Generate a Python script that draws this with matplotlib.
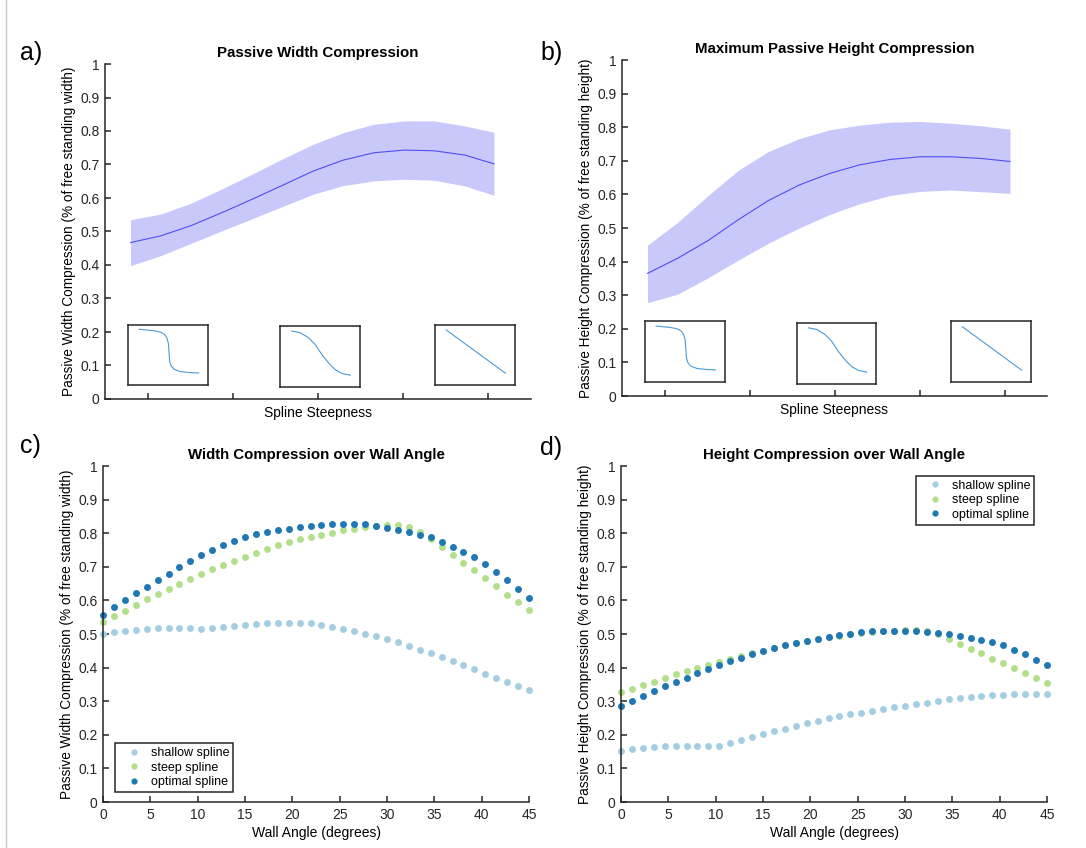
import numpy as np
import matplotlib
matplotlib.use('Agg')
import matplotlib.pyplot as plt
from matplotlib.lines import Line2D

plt.rcParams['font.family'] = ['Liberation Sans', 'DejaVu Sans']

# ---- panel a/b : compression vs spline steepness (mean + band) ----
steepness = [0.16, 0.231, 0.303, 0.374, 0.445, 0.517, 0.588,
             0.659, 0.731, 0.802, 0.873, 0.945, 1.013]

width_mean = [0.467, 0.487, 0.518, 0.556, 0.596, 0.638, 0.680,
              0.713, 0.735, 0.743, 0.741, 0.728, 0.702]
width_upper = [0.535, 0.552, 0.585, 0.627, 0.671, 0.717, 0.760,
               0.795, 0.820, 0.830, 0.830, 0.815, 0.796]
width_lower = [0.398, 0.428, 0.465, 0.502, 0.538, 0.575, 0.611,
               0.637, 0.651, 0.656, 0.653, 0.636, 0.608]

height_mean = [0.365, 0.410, 0.463, 0.525, 0.582, 0.628, 0.662,
               0.688, 0.704, 0.712, 0.712, 0.707, 0.698]
height_upper = [0.449, 0.517, 0.597, 0.672, 0.728, 0.766, 0.792,
                0.806, 0.815, 0.817, 0.812, 0.804, 0.794]
height_lower = [0.278, 0.303, 0.352, 0.405, 0.455, 0.500, 0.540,
                0.572, 0.597, 0.609, 0.613, 0.608, 0.603]

# little spline icons drawn inside the top panels (box-relative coords)
icon_steep_x = [0.139, 0.315, 0.40, 0.45, 0.483, 0.504, 0.513, 0.521,
                0.538, 0.576, 0.651, 0.777, 0.882]
icon_steep_y = [0.922, 0.900, 0.878, 0.844, 0.789, 0.689, 0.522, 0.383,
                0.311, 0.256, 0.217, 0.200, 0.194]
icon_mid_x = [0.147, 0.252, 0.357, 0.441, 0.525, 0.609, 0.693, 0.777, 0.882]
icon_mid_y = [0.917, 0.890, 0.807, 0.696, 0.530, 0.392, 0.282, 0.221, 0.193]
icon_lin_x = [0.138, 0.879]
icon_lin_y = [0.911, 0.189]

# ---- panel c/d : compression vs wall angle ----
wall_angle = np.linspace(0, 45, 40)

w_shallow = [0.499, 0.505, 0.508, 0.512, 0.515, 0.518, 0.518, 0.517, 0.517, 0.515,
             0.518, 0.521, 0.524, 0.527, 0.531, 0.532, 0.533, 0.534, 0.534, 0.534,
             0.528, 0.521, 0.515, 0.508, 0.501, 0.495, 0.486, 0.477, 0.465, 0.453,
             0.443, 0.431, 0.419, 0.408, 0.395, 0.382, 0.369, 0.357, 0.345, 0.332]
w_steep = [0.536, 0.553, 0.569, 0.587, 0.603, 0.619, 0.635, 0.650, 0.664, 0.678,
           0.692, 0.706, 0.718, 0.730, 0.742, 0.753, 0.764, 0.774, 0.783, 0.789,
           0.796, 0.802, 0.809, 0.813, 0.818, 0.822, 0.825, 0.825, 0.819, 0.804,
           0.784, 0.759, 0.736, 0.712, 0.689, 0.666, 0.642, 0.617, 0.594, 0.570]
w_optimal = [0.558, 0.579, 0.600, 0.621, 0.641, 0.660, 0.680, 0.699, 0.718, 0.735,
             0.751, 0.764, 0.777, 0.789, 0.798, 0.804, 0.809, 0.813, 0.817, 0.821,
             0.824, 0.827, 0.827, 0.827, 0.827, 0.822, 0.816, 0.811, 0.804, 0.796,
             0.788, 0.773, 0.758, 0.744, 0.728, 0.709, 0.684, 0.660, 0.635, 0.608]

h_shallow = [0.153, 0.157, 0.160, 0.163, 0.166, 0.168, 0.168, 0.168, 0.168, 0.168,
             0.175, 0.184, 0.193, 0.202, 0.210, 0.218, 0.226, 0.234, 0.242, 0.249,
             0.255, 0.261, 0.266, 0.272, 0.277, 0.282, 0.287, 0.292, 0.296, 0.301,
             0.306, 0.309, 0.312, 0.315, 0.317, 0.319, 0.320, 0.321, 0.321, 0.321]
h_steep = [0.326, 0.337, 0.348, 0.357, 0.369, 0.380, 0.391, 0.399, 0.409, 0.418,
           0.427, 0.436, 0.443, 0.450, 0.458, 0.466, 0.472, 0.478, 0.484, 0.490,
           0.495, 0.499, 0.503, 0.506, 0.508, 0.510, 0.511, 0.512, 0.508, 0.500,
           0.484, 0.471, 0.456, 0.442, 0.427, 0.413, 0.399, 0.384, 0.369, 0.354]
h_optimal = [0.286, 0.301, 0.316, 0.329, 0.344, 0.357, 0.369, 0.383, 0.396, 0.408,
             0.420, 0.430, 0.440, 0.450, 0.459, 0.467, 0.474, 0.479, 0.486, 0.490,
             0.496, 0.501, 0.505, 0.508, 0.509, 0.509, 0.509, 0.508, 0.506, 0.503,
             0.500, 0.494, 0.488, 0.481, 0.476, 0.466, 0.452, 0.439, 0.423, 0.407]

series_labels = ['shallow spline', 'steep spline', 'optimal spline']
series_colors = ['#a6cee3', '#b2df8a', '#1f78b4']

AX_COLOR = '#262626'
W, H = 1086, 848


def px_axes(fig, left, top, right, bottom):
    return fig.add_axes([left / W, 1 - bottom / H, (right - left) / W, (bottom - top) / H])


def style_axes(ax):
    for s in ['top', 'right']:
        ax.spines[s].set_visible(False)
    for s in ['left', 'bottom']:
        ax.spines[s].set_color(AX_COLOR)
        ax.spines[s].set_linewidth(1.1)
    ax.tick_params(direction='in', length=4, width=1.1, colors=AX_COLOR,
                   labelsize=10, pad=4)
    ax.set_ylim(0, 1)
    ax.set_yticks(np.arange(0, 1.01, 0.1))
    ax.set_yticklabels(['0', '0.1', '0.2', '0.3', '0.4', '0.5', '0.6', '0.7', '0.8', '0.9', '1'])


def draw_icon(ax, bounds, xs, ys):
    ins = ax.inset_axes(bounds)
    ins.plot(xs, ys, color='#4a9ad8', lw=0.8)
    ins.set_xlim(0, 1)
    ins.set_ylim(0, 1)
    ins.set_xticks([])
    ins.set_yticks([])
    for s in ins.spines.values():
        s.set_color(AX_COLOR)
        s.set_linewidth(1.1)


def steepness_panel(ax, mean, lower, upper, title, ylabel):
    style_axes(ax)
    ax.fill_between(steepness, lower, upper, color='#c8c8fb', lw=0)
    ax.plot(steepness, mean, color='#4f4ff5', lw=0.8)
    ax.set_xlim(0.1, 1.1)
    ax.set_xticks([0.2, 0.4, 0.6, 0.8, 1.0])
    ax.set_xticklabels([])
    ax.set_xlabel('Spline Steepness', fontsize=10, labelpad=1)
    ax.set_ylabel(ylabel, fontsize=9.8, labelpad=3)
    ax.set_title(title, fontsize=10.8, fontweight='bold', pad=5)
    draw_icon(ax, [0.054, 0.043, 0.188, 0.179], icon_steep_x, icon_steep_y)
    draw_icon(ax, [0.411, 0.036, 0.187, 0.182], icon_mid_x, icon_mid_y)
    draw_icon(ax, [0.775, 0.043, 0.188, 0.179], icon_lin_x, icon_lin_y)


def angle_panel(ax, data, title, ylabel, legend_loc, anchor):
    style_axes(ax)
    for vals, lab, col in zip(data, series_labels, series_colors):
        ax.plot(wall_angle, vals, 'o', ms=5, mec='none', color=col, label=lab, clip_on=False)
    ax.set_xlim(0, 45)
    ax.set_xticks(range(0, 46, 5))
    ax.set_xlabel('Wall Angle (degrees)', fontsize=10, labelpad=3)
    ax.set_ylabel(ylabel, fontsize=9.8, labelpad=3)
    ax.set_title(title, fontsize=10.8, fontweight='bold', pad=5)
    leg = ax.legend(loc=legend_loc, bbox_to_anchor=anchor, fontsize=9, fancybox=False,
                    framealpha=1, edgecolor=AX_COLOR, handlelength=2.4,
                    handletextpad=0.15, borderpad=0.3, labelspacing=0.2,
                    markerscale=0.9, borderaxespad=0)
    leg.get_frame().set_linewidth(1.1)


fig = plt.figure(figsize=(10.86, 8.48), dpi=100)

ax_a = px_axes(fig, 105, 64, 531, 399)
ax_b = px_axes(fig, 622, 60, 1047, 396)
ax_c = px_axes(fig, 103, 466, 529, 802)
ax_d = px_axes(fig, 621, 466, 1047, 802)

steepness_panel(ax_a, width_mean, width_lower, width_upper,
                'Passive Width Compression',
                'Passive Width Compression (% of free standing width)')
steepness_panel(ax_b, height_mean, height_lower, height_upper,
                'Maximum Passive Height Compression',
                'Passive Height Compression (% of free standing height)')

angle_panel(ax_c, [w_shallow, w_steep, w_optimal],
            'Width Compression over Wall Angle',
            'Passive Width Compression (% of free standing width)',
            'lower left', (0.028, 0.03))
angle_panel(ax_d, [h_shallow, h_steep, h_optimal],
            'Height Compression over Wall Angle',
            'Passive Height Compression (% of free standing height)',
            'upper right', (0.9695, 0.97))

# panel letters
for lab, xp, yp in [('a)', 20, 53), ('b)', 540, 53), ('c)', 20, 446), ('d)', 540, 448)]:
    fig.text(xp / W, 1 - yp / H, lab, fontsize=18, va='center', ha='left')

# faint border line at the left edge of the screenshot
fig.add_artist(Line2D([6 / W, 6 / W], [0, 1], color='#c8c8c8', lw=1))

fig.savefig('out.png', dpi=100)
